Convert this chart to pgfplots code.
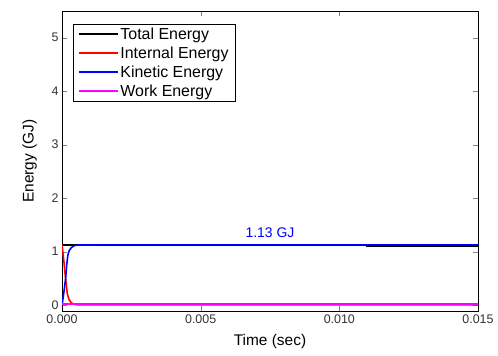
\documentclass[border=0pt]{standalone}
\usepackage{pgfplots}
\pgfplotsset{compat=1.18}
\usepackage{fontspec}
\setmainfont{Liberation Sans}
\definecolor{mymag}{RGB}{255,0,255}
\begin{document}
\begin{tikzpicture}
\begin{axis}[
  at={(0,0)}, anchor=south west,
  scale only axis, width=416bp, height=300bp,
  xmin=0, xmax=0.015, ymin=-0.11, ymax=5.5,
  xtick={0,0.005,0.010,0.015},
  ytick={0,1,2,3,4,5},
  scaled x ticks=false,
  xticklabel style={/pgf/number format/fixed,/pgf/number format/fixed zerofill,/pgf/number format/precision=3},
  /pgf/number format/assume math mode=true,
  tick align=inside, major tick length=5bp,
  tick label style={font=\fontsize{12.5}{14}\selectfont, color=black!80},
  label style={font=\fontsize{15.5}{18}\selectfont},
  xlabel={Time (sec)}, ylabel={Energy (GJ)},
  xlabel style={yshift=-4bp},
  ylabel style={yshift=8bp},
  axis line style={black, line width=0.8pt},
  legend style={at={(0.026,0.957)}, anchor=north west, font=\fontsize{16}{19.5}\selectfont,
    inner ysep=1.5bp, inner xsep=5bp, row sep=2bp},
  legend cell align=left,
  legend image code/.code={\draw[line width=1.6pt] (0cm,0cm) -- (1.37cm,0cm);},
]
\addplot[black, line width=1.6pt] coordinates {(0,1.12) (0.011,1.12) (0.011,1.105) (0.015,1.105)};
\addlegendentry{Total Energy}
\addplot[red, line width=1.6pt] coordinates {
(0,1.13) (0.00003,1.0) (0.00007,0.81) (0.0001,0.64) (0.00013,0.5) (0.00016,0.35) (0.00019,0.22) (0.00023,0.14) (0.00027,0.09) (0.00033,0.05) (0.0004,0.02) (0.00052,0.008) (0.0007,0.005) (0.015,0.005)};
\addlegendentry{Internal Energy}
\addplot[blue, line width=1.6pt] coordinates {
(0,0.0) (0.00003,0.1) (0.00007,0.25) (0.0001,0.37) (0.00013,0.5) (0.00017,0.75) (0.00021,0.93) (0.00026,1.02) (0.00033,1.07) (0.0004,1.1) (0.00046,1.115) (0.0006,1.125) (0.015,1.127)};
\addlegendentry{Kinetic Energy}
\addplot[mymag, line width=1.6pt] coordinates {(0,0.02) (0.005,0.02) (0.011,0.02) (0.011,0.025) (0.015,0.025)};
\addlegendentry{Work Energy}
\node[blue, font=\fontsize{14}{16}\selectfont] at (axis cs:0.0075,1.36) {1.13 GJ};
\end{axis}
\path (-62bp,-45bp) rectangle (436bp,311bp);
\end{tikzpicture}
\end{document}
